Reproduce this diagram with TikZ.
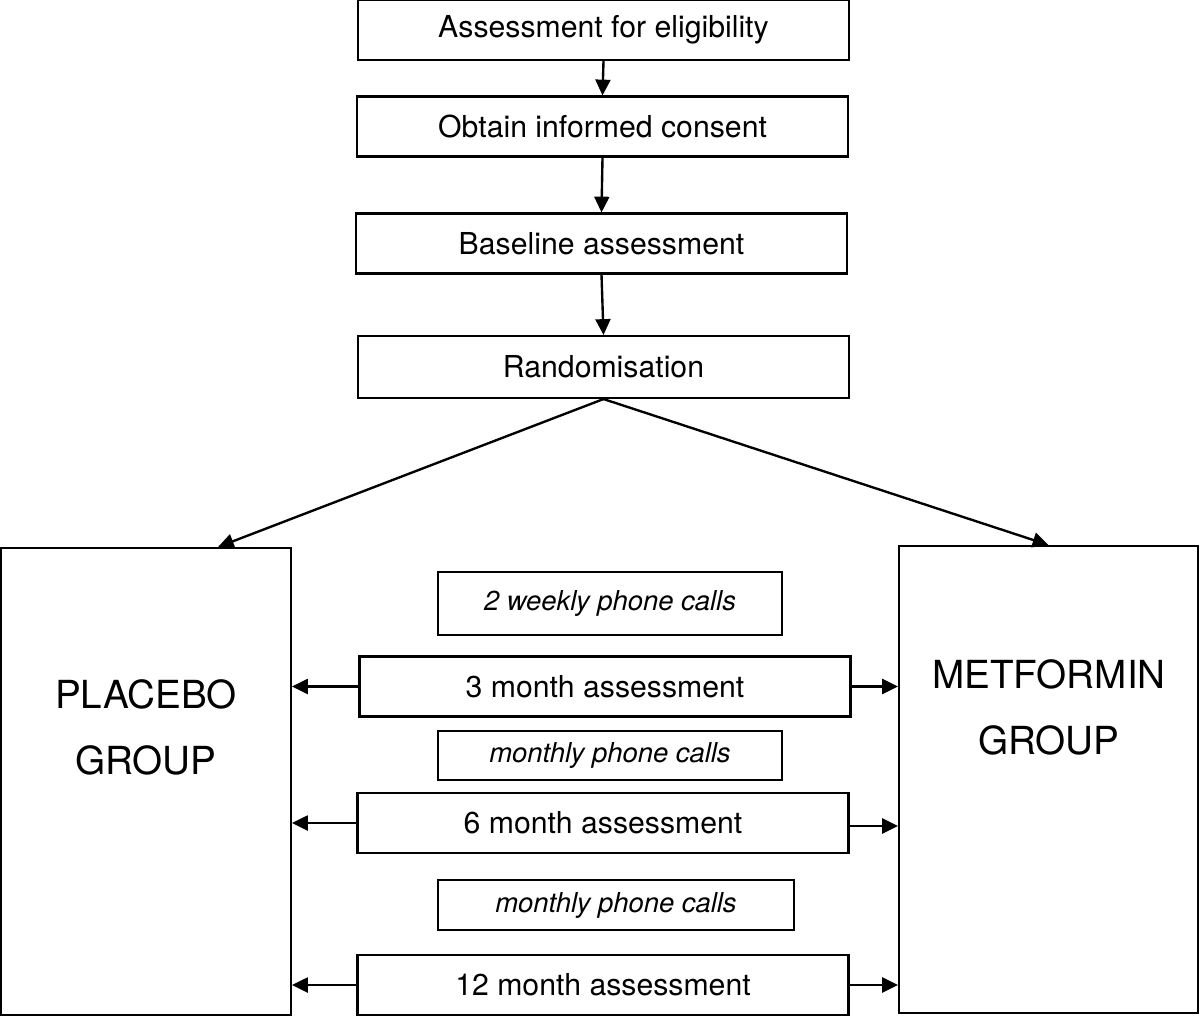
\documentclass[tikz,border=0pt]{standalone}
\usepackage{fontspec}
\setmainfont{TeX Gyre Heros}
\usepackage{tikz}
\usetikzlibrary{arrows.meta,calc,positioning}

\begin{document}
\begin{tikzpicture}[x=0.02cm,y=-0.02cm]

\tikzset{stepbox/.style={draw, line width=1.2pt, minimum width=9.82cm, minimum height=1.2cm, inner sep=0pt, font=\fontsize{17.2}{20}\selectfont},
callbox/.style={draw, line width=1.2pt, minimum width=6.88cm, minimum height=1.1cm, inner sep=0pt, font=\fontsize{15.6}{18}\selectfont\itshape},
groupbox/.style={draw, line width=1.2pt, inner sep=0pt},
grouptext/.style={align=center, font=\fontsize{22}{37.5}\selectfont},
arr/.style={line width=1.35pt, -{Triangle[length=9pt,width=8.5pt]}}}

\useasboundingbox (0,0) rectangle (1200,1017);

%flow down to randomisation
\node[stepbox] (elig) at (603.5,30) {Assessment for eligibility};
\node[stepbox] (consent) at (602.5,126.5) {Obtain informed consent};
\node[stepbox] (baseline) at (601.5,243.5) {Baseline assessment};
\node[stepbox, minimum height=1.24cm] (random) at (603.5,367) {Randomisation};

\draw[arr] (elig.south) -- (consent.north);
\draw[arr] (consent.south) -- (baseline.north);
\draw[arr] (baseline.south) -- (random.north);

%the two groups
\node[groupbox, minimum width=5.8cm, minimum height=9.34cm] (placebo) at (146,781.5) {};
\node[groupbox, minimum width=5.98cm, minimum height=9.34cm] (metformin) at (1048.5,779.5) {};
\node[grouptext] (placebotext) at (146,727) {PLACEBO\\GROUP};
\node[grouptext] (metformintext) at (1049,707) {METFORMIN\\GROUP};

\coordinate (placebotop) at (218,547);
\draw[arr] (random.south) -- (placebotop);
\draw[arr] (random.south) -- (metformin.north);

%follow up visits
\node[callbox, minimum height=1.26cm] (calls1) at (610,603.5) {2 weekly phone calls};
\node[stepbox] (month3) at (605,686.5) {3 month assessment};
\node[callbox, minimum height=0.98cm] (calls2) at (610,755.5) {monthly phone calls};
\node[stepbox] (month6) at (603,823) {6 month assessment};
\node[callbox, minimum width=7.12cm, minimum height=1.0cm] (calls3) at (616,905) {monthly phone calls};
\node[stepbox] (month12) at (603,985) {12 month assessment};

\foreach \m in {month3,month6,month12}
  \draw[arr] (\m.west) -- (placebo.east |- \m.west);

\draw[arr] (month3.east) -- (metformin.west |- month3.east);
\draw[arr] ($(month6.east)+(0,3)$) -- (metformin.west |- {$(month6.east)+(0,3)$});
\draw[arr] (month12.east) -- (metformin.west |- month12.east);

\end{tikzpicture}
\end{document}
